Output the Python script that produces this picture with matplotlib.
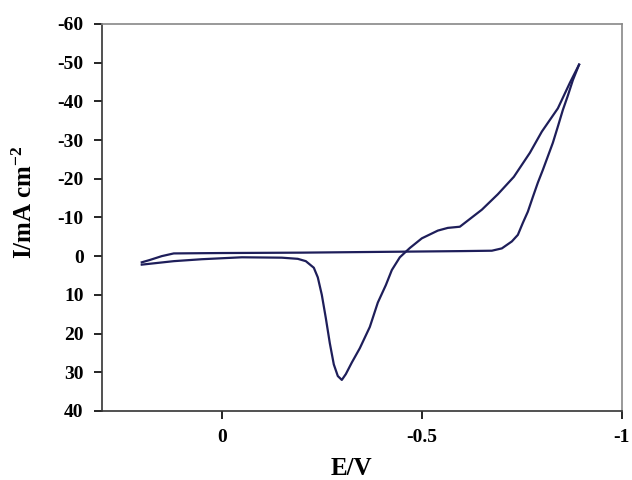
import numpy as np
from matplotlib import pyplot as plt

# forward scan (towards negative potential)
e_fwd = [0.2, 0.18, 0.15, 0.12, 0.0, -0.2, -0.4, -0.6, -0.675, -0.70, -0.7125, -0.725,
         -0.74, -0.7525, -0.765, -0.7775, -0.79, -0.8025, -0.815, -0.8275, -0.84,
         -0.8525, -0.865, -0.8775, -0.893]
i_fwd = [1.6, 1.0, 0.0, -0.7, -0.8, -0.9, -1.1, -1.3, -1.4, -2.0, -2.9, -3.8,
         -5.5, -8.6, -11.5, -15.3, -19.0, -22.3, -25.8, -29.3, -33.5,
         -37.8, -41.5, -45.5, -49.5]

# reverse scan (back to positive potential)
e_rev = [-0.893, -0.87, -0.84, -0.80, -0.77, -0.73, -0.69, -0.65, -0.62, -0.595, -0.565,
         -0.54, -0.5, -0.47, -0.445, -0.425, -0.41, -0.39, -0.37, -0.345, -0.325, -0.31,
         -0.30, -0.29, -0.28, -0.27, -0.26, -0.25, -0.24, -0.23, -0.21, -0.19, -0.15,
         -0.05, 0.05, 0.12, 0.2]
i_rev = [-49.5, -44.8, -38.2, -32.2, -26.7, -20.5, -16.0, -12.0, -9.6, -7.6, -7.3,
         -6.6, -4.6, -2.1, 0.3, 3.6, 7.5, 12.0, 18.3, 23.8, 27.5, 30.5,
         32.0, 31.0, 28.0, 22.5, 16.0, 10.0, 5.5, 3.0, 1.3, 0.7, 0.4,
         0.3, 0.8, 1.3, 2.2]

xticks = [0, -0.5, -1]
xtick_labels = ['0', '-0.5', '-1']
yticks = list(range(-60, 50, 10))

plt.rcParams['font.family'] = ['Liberation Serif', 'DejaVu Serif']
plt.rcParams['font.weight'] = 'bold'
plt.rcParams['axes.unicode_minus'] = False
plt.rcParams['mathtext.fontset'] = 'custom'
plt.rcParams['mathtext.rm'] = 'Liberation Serif:bold'
plt.rcParams['mathtext.bf'] = 'Liberation Serif:bold'
plt.rcParams['mathtext.default'] = 'rm'

fig = plt.figure(figsize=(6.32, 4.8), dpi=100)
ax = fig.add_axes([0.161, 0.144, 0.823, 0.806])

color = '#1e1e5a'
ax.plot(e_fwd, i_fwd, color=color, lw=1.6)
ax.plot(e_rev, i_rev, color=color, lw=1.6)

ax.set_xlim(0.3, -1)
ax.set_ylim(40, -60)
ax.set_xticks(xticks)
ax.set_xticklabels(xtick_labels)
ax.set_yticks(yticks)
ax.set_yticklabels([str(v) for v in yticks])

ax.tick_params(direction='out', length=6, width=1.2, pad=7, labelsize=14,
               top=False, right=False)
for lab in ax.get_xticklabels() + ax.get_yticklabels():
    lab.set_fontweight('bold')

for s in ['left', 'bottom']:
    ax.spines[s].set_color('#333333')
    ax.spines[s].set_linewidth(1.2)
for s in ['top', 'right']:
    ax.spines[s].set_color('#888888')
    ax.spines[s].set_linewidth(1.2)

ax.set_xlabel('E/V', fontsize=18, fontweight='bold')
ax.set_ylabel('I/mA cm$^{-2}$', fontsize=18, fontweight='bold')
ax.xaxis.set_label_coords(0.48, -0.12)
ax.yaxis.set_label_coords(-0.125, 0.54)

plt.savefig('out.png', dpi=100)
